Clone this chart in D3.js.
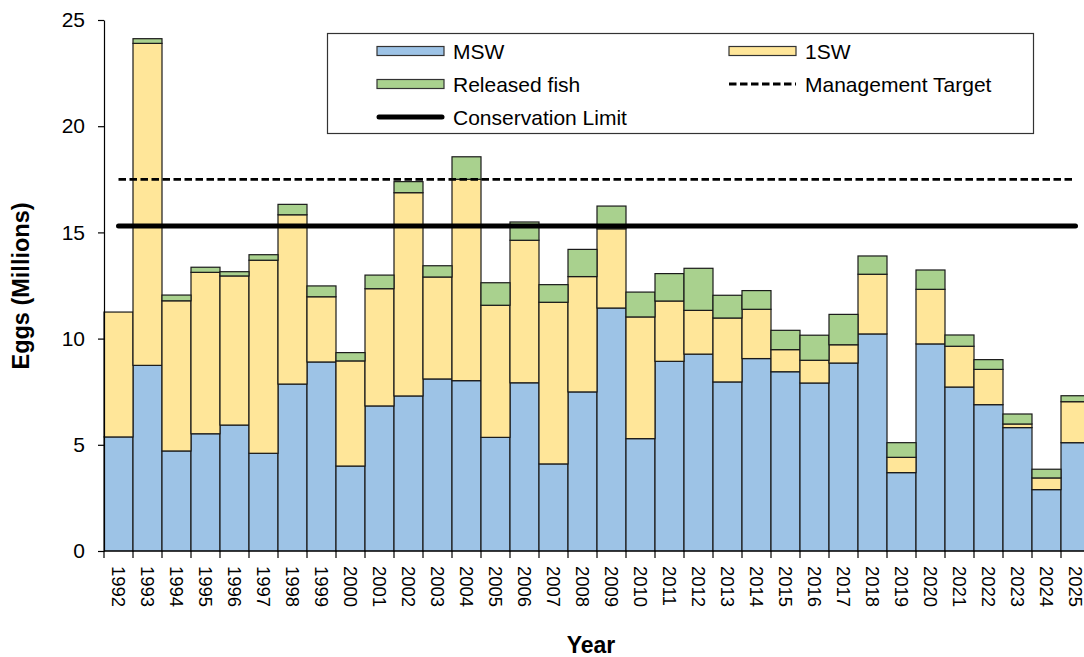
<!DOCTYPE html>
<html>
<head>
<meta charset="utf-8">
<script src="https://cdn.jsdelivr.net/npm/d3@7"></script>
<style>
  body { margin: 0; background: #fff; }
  svg { display: block; font-family: "Liberation Sans", Arial, sans-serif; }
</style>
</head>
<body>
<svg id="eggChart"></svg>
<script>
// ─── data (millions of eggs) ────────────────────────────────────────────────
const years = ["1992","1993","1994","1995","1996","1997","1998","1999","2000","2001","2002","2003","2004","2005","2006","2007","2008",
               "2009","2010","2011","2012","2013","2014","2015","2016","2017","2018","2019","2020","2021","2022","2023","2024","2025"];
const msw      = [5.37, 8.74, 4.71, 5.52, 5.93, 4.60, 7.86, 8.90, 4.00, 6.83, 7.30, 8.10, 8.02, 5.35, 7.92, 4.10, 7.49,
                  11.44, 5.29, 8.93, 9.27, 7.96, 9.06, 8.44, 7.91, 8.85, 10.22, 3.69, 9.75, 7.72, 6.89, 5.81, 2.89, 5.10];
const oneSW    = [5.88, 15.16, 7.07, 7.60, 7.02, 9.09, 7.97, 3.07, 4.95, 5.52, 9.57, 4.80, 9.48, 6.22, 6.71, 7.61, 5.43,
                  3.73, 5.73, 2.84, 2.06, 3.01, 2.32, 1.04, 1.07, 0.86, 2.81, 0.72, 2.57, 1.92, 1.66, 0.17, 0.55, 1.93];
const released = [0.00, 0.22, 0.27, 0.24, 0.20, 0.26, 0.49, 0.51, 0.39, 0.64, 0.52, 0.53, 1.06, 1.06, 0.86, 0.83, 1.28,
                  1.07, 1.17, 1.29, 1.98, 1.07, 0.88, 0.91, 1.18, 1.43, 0.86, 0.69, 0.91, 0.53, 0.46, 0.47, 0.41, 0.28];
const conservationLimit = years.map(() => 15.3);
const managementTarget  = years.map(() => 17.5);
const yTicks = [0, 5, 10, 15, 20, 25];

const seriesKeys   = ["MSW", "1SW", "Released fish"];
const seriesColors = { "MSW": "#9dc3e6", "1SW": "#ffe699", "Released fish": "#a9d18e" };

// ─── chart ──────────────────────────────────────────────────────────────────
const svg    = d3.select("#eggChart").attr("width", 1084).attr("height", 657);
const margin = { top: 20, left: 104 };
const width  = 986;   // plot runs slightly past the picture's right edge, as in the original
const height = 531;

const root = svg.append("g").attr("transform", `translate(${margin.left},${margin.top})`);

const rows  = years.map((yr, i) => ({ year: yr, "MSW": msw[i], "1SW": oneSW[i], "Released fish": released[i] }));
const stack = d3.stack().keys(seriesKeys)(rows);

const x = d3.scaleBand().domain(years).range([0, width]).padding(0);
const y = d3.scaleLinear().domain([0, 25]).range([height, 0]);

// stacked bars
root.selectAll("g.layer").data(stack).join("g").attr("class", "layer").attr("fill", d => seriesColors[d.key])
  .selectAll("rect").data(d => d.filter(p => p[1] - p[0] > 0)).join("rect")
  .attr("x", d => x(d.data.year)).attr("width", x.bandwidth())
  .attr("y", d => y(d[1])).attr("height", d => y(d[0]) - y(d[1]))
  .attr("stroke", "#1a1a1a").attr("stroke-width", 1.2);

// reference lines (centre of first bar to centre of last bar)
const cx = yr => x(yr) + x.bandwidth() / 2;
root.append("path").datum(managementTarget).attr("fill", "none").attr("stroke", "#000").attr("stroke-width", 2.8).attr("stroke-dasharray", "7.5,3.5")
  .attr("d", d3.line().x((_, i) => cx(years[i])).y(d => y(d)));
root.append("path").datum(conservationLimit).attr("fill", "none").attr("stroke", "#000").attr("stroke-width", 5).attr("stroke-linecap", "round")
  .attr("d", d3.line().x((_, i) => cx(years[i])).y(d => y(d)));

// axes
const yAxis = root.append("g").call(d3.axisLeft(y).tickValues(yTicks).tickSize(6).tickSizeOuter(0).tickPadding(13));
yAxis.selectAll("text").attr("font-size", 21).attr("fill", "#000").attr("font-family", "Liberation Sans, Arial, sans-serif");
yAxis.selectAll("line, path").attr("stroke", "#000").attr("stroke-width", 1.2);

// x axis: ticks between categories, labels rotated to read downwards
const xg = root.append("g").attr("transform", `translate(0,${height})`);
xg.append("line").attr("x1", 0).attr("x2", width).attr("stroke", "#000").attr("stroke-width", 1.2);
xg.selectAll("line.tick").data(years).join("line").attr("class", "tick")
  .attr("x1", d => x(d)).attr("x2", d => x(d)).attr("y1", 0).attr("y2", 7).attr("stroke", "#000").attr("stroke-width", 1.2);
xg.selectAll("text").data(years).join("text")
  .attr("transform", d => `translate(${cx(d)},15) rotate(90)`).attr("dy", "0.36em")
  .attr("font-size", 18.5).attr("text-anchor", "start").text(d => d);

// axis titles
svg.append("text").attr("transform", "translate(29,286) rotate(-90)").attr("text-anchor", "middle")
  .attr("font-size", 23.5).attr("font-weight", "bold").text("Eggs (Millions)");
svg.append("text").attr("x", 591).attr("y", 653).attr("text-anchor", "middle")
  .attr("font-size", 23).attr("font-weight", "bold").text("Year");

// legend
const legend = svg.append("g");
legend.append("rect").attr("x", 327.5).attr("y", 33.5).attr("width", 706).attr("height", 100).attr("fill", "#fff").attr("stroke", "#333").attr("stroke-width", 1.2);
const legendItems = [
  { label: "MSW",                kind: "box",    col: 0, row: 0 },
  { label: "1SW",                kind: "box",    col: 1, row: 0 },
  { label: "Released fish",      kind: "box",    col: 0, row: 1 },
  { label: "Management Target",  kind: "dash",   col: 1, row: 1 },
  { label: "Conservation Limit", kind: "solid",  col: 0, row: 2 }
];
const li = legend.selectAll("g.item").data(legendItems).join("g").attr("class", "item")
  .attr("transform", d => `translate(${d.col ? 729 : 377},${51 + d.row * 33})`);
li.filter(d => d.kind === "box").append("rect").attr("x", 0).attr("y", -4.5).attr("width", 67).attr("height", 9)
  .attr("fill", d => seriesColors[d.label]).attr("stroke", "#333").attr("stroke-width", 1.2);
li.filter(d => d.kind === "dash").append("line").attr("x1", 0).attr("x2", 67).attr("stroke", "#000").attr("stroke-width", 2.8).attr("stroke-dasharray", "7.5,3.5");
li.filter(d => d.kind === "solid").append("line").attr("x1", 2).attr("x2", 65).attr("stroke", "#000").attr("stroke-width", 5).attr("stroke-linecap", "round");
li.append("text").attr("x", 76).attr("dy", "0.36em").attr("font-size", 21).text(d => d.label);
</script>
</body>
</html>
